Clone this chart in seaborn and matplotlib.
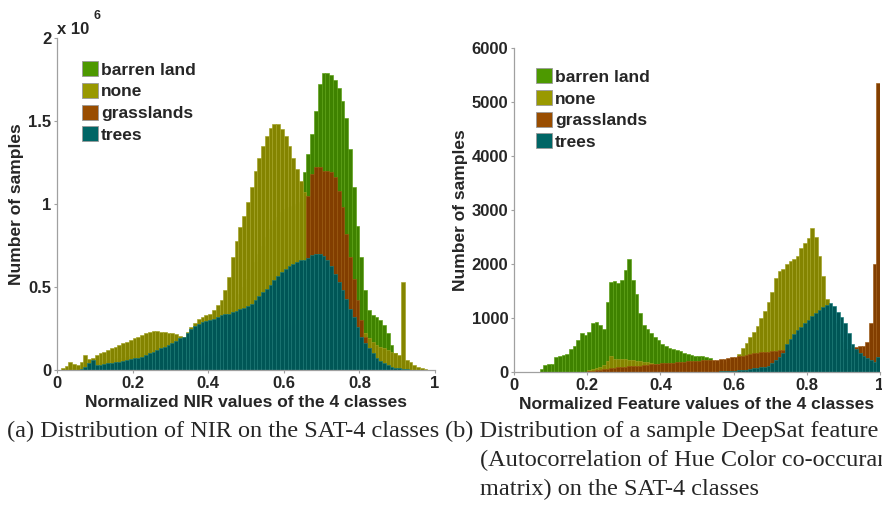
import numpy as np
import pandas as pd
import matplotlib
matplotlib.use("Agg")
import matplotlib.pyplot as plt
from matplotlib.patches import Patch
import seaborn as sns

# ---------------- data (histogram counts per 0.01 bin) ----------------
classes = ["barren land", "none", "grasslands", "trees"]

# Left panel: NIR, counts in units of 10^6
nir_barren = [0, 0, 0.005, 0.01, 0.01, 0.01, 0.02, 0.03, 0.03, 0.035,
              0.04, 0.045, 0.05, 0.055, 0.06, 0.065, 0.07, 0.075, 0.08, 0.085,
              0.09, 0.095, 0.10, 0.105, 0.11, 0.115, 0.12, 0.125, 0.13, 0.135,
              0.14, 0.15, 0.16, 0.17, 0.18, 0.19, 0.20, 0.21, 0.22, 0.23,
              0.24, 0.26, 0.28, 0.30, 0.32, 0.35, 0.38, 0.42, 0.46, 0.50,
              0.55, 0.60, 0.65, 0.70, 0.75, 0.80, 0.85, 0.90, 0.92, 0.95,
              0.97, 0.98, 0.99, 1.00, 1.01, 1.19, 1.30, 1.42, 1.56, 1.72,
              1.79, 1.79, 1.78, 1.75, 1.70, 1.62, 1.52, 1.33, 1.10, 0.87,
              0.68, 0.48, 0.36, 0.33, 0.32, 0.30, 0.27, 0.22, 0.15, 0.10,
              0.06, 0.03, 0.01, 0, 0, 0, 0, 0, 0, 0]
nir_none = [0.002, 0.01, 0.025, 0.05, 0.035, 0.03, 0.05, 0.09, 0.065, 0.07,
            0.09, 0.10, 0.11, 0.12, 0.13, 0.14, 0.15, 0.16, 0.17, 0.18,
            0.19, 0.20, 0.21, 0.22, 0.23, 0.235, 0.235, 0.23, 0.23, 0.225,
            0.22, 0.215, 0.205, 0.20, 0.23, 0.26, 0.285, 0.305, 0.32, 0.33,
            0.34, 0.36, 0.39, 0.42, 0.48, 0.56, 0.68, 0.78, 0.86, 0.93,
            1.01, 1.10, 1.20, 1.28, 1.35, 1.41, 1.46, 1.48, 1.48, 1.45,
            1.41, 1.35, 1.28, 1.21, 1.14, 1.07, 1.00, 0.93, 0.86, 0.80,
            0.74, 0.68, 0.62, 0.56, 0.50, 0.45, 0.40, 0.35, 0.31, 0.28,
            0.25, 0.22, 0.19, 0.17, 0.15, 0.14, 0.13, 0.12, 0.11, 0.10,
            0.09, 0.53, 0.06, 0.05, 0.03, 0.02, 0.01, 0.005, 0.003, 0.002]
nir_grass = [0, 0, 0, 0, 0, 0, 0, 0, 0, 0,
             0.01, 0.01, 0.012, 0.014, 0.016, 0.018, 0.02, 0.022, 0.024, 0.026,
             0.028, 0.03, 0.032, 0.034, 0.036, 0.038, 0.04, 0.042, 0.044, 0.046,
             0.048, 0.05, 0.055, 0.06, 0.065, 0.07, 0.075, 0.08, 0.085, 0.09,
             0.095, 0.10, 0.105, 0.11, 0.115, 0.12, 0.125, 0.13, 0.135, 0.14,
             0.15, 0.16, 0.17, 0.18, 0.19, 0.20, 0.21, 0.22, 0.23, 0.24,
             0.25, 0.26, 0.27, 0.28, 0.29, 0.30, 1.05, 1.18, 1.22, 1.22,
             1.20, 1.20, 1.19, 1.16, 1.08, 0.98, 0.82, 0.68, 0.55, 0.42,
             0.30, 0.20, 0.13, 0.08, 0.05, 0.03, 0.02, 0.01, 0.005, 0,
             0, 0, 0, 0, 0, 0, 0, 0, 0, 0]
nir_trees = [0, 0, 0, 0, 0, 0, 0.005, 0.02, 0.04, 0.06,
             0.03, 0.033, 0.036, 0.04, 0.043, 0.047, 0.05, 0.055, 0.06, 0.065,
             0.07, 0.075, 0.08, 0.09, 0.10, 0.11, 0.12, 0.13, 0.14, 0.15,
             0.16, 0.175, 0.19, 0.20, 0.22, 0.245, 0.265, 0.28, 0.29, 0.295,
             0.30, 0.31, 0.32, 0.33, 0.335, 0.34, 0.35, 0.355, 0.365, 0.375,
             0.385, 0.40, 0.42, 0.445, 0.47, 0.49, 0.515, 0.54, 0.565, 0.59,
             0.61, 0.625, 0.64, 0.65, 0.66, 0.665, 0.675, 0.69, 0.70, 0.70,
             0.685, 0.66, 0.625, 0.58, 0.53, 0.48, 0.43, 0.37, 0.32, 0.26,
             0.20, 0.165, 0.13, 0.10, 0.075, 0.055, 0.04, 0.03, 0.02, 0.015,
             0.01, 0.007, 0.005, 0.003, 0, 0, 0, 0, 0, 0]

# Right panel: DeepSat feature, raw counts
feat_barren = [0, 0, 0, 0, 0, 0, 0, 60, 130, 140,
               150, 285, 300, 320, 340, 420, 480, 590, 730, 690,
               740, 900, 930, 870, 790, 1300, 1670, 1690, 1650, 1700,
               1890, 2100, 1700, 1450, 1100, 870, 790, 720, 650, 600,
               520, 480, 440, 420, 410, 380, 350, 330, 315, 300,
               290, 290, 280, 255, 210, 150, 100, 80, 70, 60,
               50, 45, 40, 35, 30, 28, 26, 24, 22, 20,
               18, 16, 14, 12, 10, 9, 8, 7, 6, 5,
               4, 4, 3, 3, 2, 2, 2, 1, 1, 1,
               0, 0, 0, 0, 0, 0, 0, 0, 0, 0]
feat_none = [0, 0, 0, 0, 0, 0, 0, 0, 0, 0,
             0, 0, 0, 0, 0, 0, 0, 0, 0, 0,
             40, 60, 80, 100, 130, 200, 290, 250, 240, 240,
             235, 230, 225, 210, 195, 190, 180, 160, 150, 140,
             120, 115, 110, 105, 100, 100, 100, 100, 100, 100,
             105, 110, 115, 120, 130, 140, 150, 170, 190, 220,
             260, 330, 440, 540, 650, 740, 860, 1000, 1130, 1300,
             1480, 1750, 1870, 1900, 2000, 2060, 2100, 2140, 2290, 2380,
             2480, 2660, 2500, 2150, 1780, 1350, 1150, 900, 700, 550,
             420, 330, 260, 210, 170, 140, 110, 90, 70, 50]
feat_grass = [0, 0, 0, 0, 0, 0, 0, 0, 0, 0,
              0, 0, 0, 0, 0, 0, 0, 0, 0, 0,
              20, 25, 30, 40, 50, 60, 70, 80, 85, 90,
              100, 105, 110, 115, 120, 125, 130, 140, 150, 155,
              160, 165, 170, 175, 180, 185, 190, 195, 200, 205,
              210, 215, 220, 222, 225, 230, 240, 250, 260, 270,
              280, 290, 300, 315, 330, 345, 355, 365, 370, 378,
              385, 395, 405, 410, 410, 410, 410, 410, 410, 410,
              410, 410, 410, 410, 410, 410, 410, 410, 410, 415,
              420, 430, 450, 470, 480, 490, 560, 900, 2000, 5350]
feat_trees = [0, 0, 0, 0, 0, 0, 0, 0, 0, 0,
              0, 0, 0, 0, 0, 0, 0, 0, 0, 0,
              0, 0, 0, 0, 0, 0, 0, 0, 0, 0,
              0, 0, 0, 0, 0, 0, 0, 0, 0, 0,
              0, 0, 0, 0, 0, 0, 0, 0, 0, 0,
              2, 3, 4, 5, 6, 8, 10, 12, 15, 18,
              22, 28, 35, 45, 55, 65, 75, 88, 100, 120,
              160, 220, 280, 360, 520, 610, 700, 770, 840, 900,
              960, 1030, 1090, 1150, 1200, 1250, 1285, 1220, 1120, 1010,
              900, 720, 520, 430, 350, 300, 260, 220, 190, 280]

x_ticks = [0, 0.2, 0.4, 0.6, 0.8, 1]
x_tick_labels = ["0", "0.2", "0.4", "0.6", "0.8", "1"]
nir_y_ticks = [0, 0.5, 1, 1.5, 2]
nir_y_tick_labels = ["0", "0.5", "1", "1.5", "2"]
feat_y_ticks = [0, 1000, 2000, 3000, 4000, 5000, 6000]
feat_y_tick_labels = ["0", "1000", "2000", "3000", "4000", "5000", "6000"]

caption_a = "(a) Distribution of NIR on the SAT-4 classes"
caption_b = ["(b) Distribution of a sample DeepSat feature",
             "(Autocorrelation of Hue Color co-occurance",
             "matrix) on the SAT-4 classes"]

# ---------------- styling ----------------
legend_colors = ["#4d9900", "#999900", "#994d00", "#006666"]
bar_colors = ["#3f8200", "#848400", "#823e00", "#005656"]
bar_edges = ["#5aa012", "#a2a222", "#9e5a14", "#1a7c7c"]

sns.set_style("ticks")
plt.rcParams["font.family"] = ["Liberation Sans", "DejaVu Sans"]
plt.rcParams["font.weight"] = "bold"

n_bins = 100
centers = (np.arange(n_bins) + 0.5) / n_bins

W, H = 882, 512
fig = plt.figure(figsize=(W / 100, H / 100), dpi=100)


def ax_rect(x0, x1, ytop, ybot):
    return [x0 / W, 1 - ybot / H, (x1 - x0) / W, (ybot - ytop) / H]


ax1 = fig.add_axes(ax_rect(57, 435, 38, 370))
ax2 = fig.add_axes(ax_rect(514, 880, 48, 372))

panels = [
    (ax1, [nir_barren, nir_none, nir_grass, nir_trees]),
    (ax2, [feat_barren, feat_none, feat_grass, feat_trees]),
]

for ax, series in panels:
    for vals, fc, ec, name in zip(series, bar_colors, bar_edges, classes):
        df = pd.DataFrame({"value": centers, "count": np.asarray(vals, float)})
        sns.histplot(data=df, x="value", weights="count", bins=n_bins,
                     binrange=(0, 1), color=fc, edgecolor=ec, linewidth=0.45,
                     alpha=1.0, ax=ax, label=name)

spine_col = "#a0a0a0"
for ax in (ax1, ax2):
    ax.set_xlim(0, 1)
    ax.set_xticks(x_ticks)
    ax.set_xticklabels(x_tick_labels)
    for s in ("top", "right"):
        ax.spines[s].set_visible(False)
    for s in ("left", "bottom"):
        ax.spines[s].set_color(spine_col)
        ax.spines[s].set_linewidth(0.9)
    ax.tick_params(axis="both", direction="out", length=2.5, width=0.8,
                   color=spine_col, labelsize=12, pad=1.5)
    for lbl in ax.get_xticklabels() + ax.get_yticklabels():
        lbl.set_fontweight("bold")
    ax.set_ylabel("Number of samples", fontsize=12.5, fontweight="bold", labelpad=3)

ax1.set_ylim(0, 2)
ax1.set_yticks(nir_y_ticks)
ax1.set_yticklabels(nir_y_tick_labels, fontweight="bold")
ax1.set_xlabel("Normalized NIR values of the 4 classes", fontsize=12.5,
               fontweight="bold", labelpad=3)

ax2.set_ylim(0, 6000)
ax2.set_yticks(feat_y_ticks)
ax2.set_yticklabels(feat_y_tick_labels, fontweight="bold")
ax2.set_xlabel("Normalized Feature values of the 4 classes", fontsize=12.5,
               fontweight="bold", labelpad=3)

# exponent label
fig.text(57 / W, 1 - 30 / H, "x 10", fontsize=12, fontweight="bold",
         ha="left", va="center")
fig.text(93 / W, 1 - 16 / H, "6", fontsize=9, fontweight="bold",
         ha="left", va="center")

handles = [Patch(facecolor=c, edgecolor="#9a9a9a", linewidth=0.6) for c in legend_colors]
for ax, anchor in ((ax1, (0.066, 0.93)), (ax2, (0.060, 0.937))):
    ax.legend(handles, classes, loc="upper left", bbox_to_anchor=anchor,
              frameon=False, handlelength=0.95, handleheight=0.95,
              handletextpad=0.15, labelspacing=0.3, borderpad=0, borderaxespad=0,
              prop={"weight": "bold", "size": 12.5})

serif = ["Liberation Serif", "DejaVu Serif"]
cap_fs = 17.5
fig.text(7 / W, 1 - 431 / H, caption_a, fontsize=cap_fs, family=serif,
         fontweight="normal", ha="left", va="center")
fig.text(445 / W, 1 - 431 / H, caption_b[0], fontsize=cap_fs, family=serif,
         fontweight="normal", ha="left", va="center")
fig.text(480 / W, 1 - 460 / H, caption_b[1], fontsize=cap_fs, family=serif,
         fontweight="normal", ha="left", va="center")
fig.text(480 / W, 1 - 489 / H, caption_b[2], fontsize=cap_fs, family=serif,
         fontweight="normal", ha="left", va="center")

fig.savefig("out.png", dpi=100)
